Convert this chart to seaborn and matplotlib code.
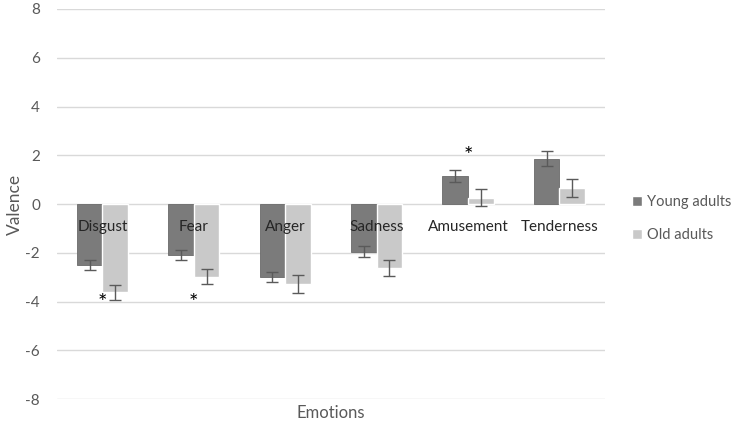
import pandas as pd
import matplotlib.pyplot as plt
import seaborn as sns

# Data
emotions = ["Disgust", "Fear", "Anger", "Sadness", "Amusement", "Tenderness"]
groups = ["Young adults", "Old adults"]
young_mean = [-2.5, -2.1, -3.0, -1.95, 1.15, 1.85]
young_err = [0.22, 0.21, 0.21, 0.24, 0.24, 0.31]
old_mean = [-3.62, -2.98, -3.27, -2.62, 0.25, 0.66]
old_err = [0.3, 0.3, 0.36, 0.32, 0.35, 0.38]
# (emotion, group, y) of significance stars
stars = [("Disgust", "Young adults", -4.05), ("Fear", "Young adults", -4.05),
         ("Amusement", "Young adults", 1.95)]
y_ticks = list(range(-8, 9, 2))

df = pd.DataFrame({
    "emotion": emotions * 2,
    "group": [groups[0]] * 6 + [groups[1]] * 6,
    "valence": young_mean + old_mean,
    "err": young_err + old_err,
})

sns.set_style("white")
plt.rcParams["font.family"] = ["Lato", "DejaVu Sans"]
text_col = "#595959"

fig = plt.figure(figsize=(7.37, 4.26), dpi=100)
ax = fig.add_axes([0.077, 0.063, 0.744, 0.916])

palette = {"Young adults": "#7b7b7b", "Old adults": "#c9c9c9"}
sns.barplot(data=df, x="emotion", y="valence", hue="group", order=emotions,
            hue_order=groups, palette=palette, width=0.56, errorbar=None,
            saturation=1, ax=ax, zorder=2)

# error bars on the bar centres
for container, g in zip(ax.containers, groups):
    sub = df[df["group"] == g].set_index("emotion").loc[emotions]
    xs = [p.get_x() + p.get_width() / 2 for p in container.patches]
    ax.errorbar(xs, sub["valence"], yerr=sub["err"], fmt="none",
                ecolor="#5a5a5a", elinewidth=1, capsize=4, capthick=1, zorder=3)
for p in ax.containers[0].patches:
    p.set_edgecolor("#6a6a6a")
    p.set_linewidth(0.6)

# significance stars
for emo, g, y in stars:
    i = emotions.index(emo)
    p = ax.containers[groups.index(g)].patches[i]
    ax.text(p.get_x() + p.get_width(), y, "*", ha="center", va="center",
            fontsize=16, color="black", zorder=4)

# category labels sitting just under the zero line
for i, emo in enumerate(emotions):
    ax.text(i, -0.95, emo, ha="center", va="center", fontsize=11,
            color="#262626", zorder=4)

ax.set_ylim(-8, 8)
ax.set_yticks(y_ticks)
ax.set_yticklabels([str(t) for t in y_ticks], fontsize=11, color=text_col)
ax.set_xticks([])
ax.set_xlim(-0.5, len(emotions) - 0.5)
ax.yaxis.grid(True, color="#d9d9d9", linewidth=1, zorder=0)
ax.set_axisbelow(True)
ax.tick_params(axis="y", length=0, pad=12)
for s in ax.spines.values():
    s.set_visible(False)

ax.set_xlabel("Emotions", fontsize=12, color=text_col, labelpad=4)
ax.set_ylabel("Valence", fontsize=12.5, color=text_col, labelpad=2)

handles, labels = ax.get_legend_handles_labels()
ax.legend(handles, labels, loc="center left", bbox_to_anchor=(0.84, 0.487),
          bbox_transform=fig.transFigure, frameon=False, fontsize=10.5,
          handlelength=0.7, handleheight=0.7, handletextpad=0.3,
          labelspacing=1.3, labelcolor=text_col)

fig.savefig("out.png", dpi=100)
